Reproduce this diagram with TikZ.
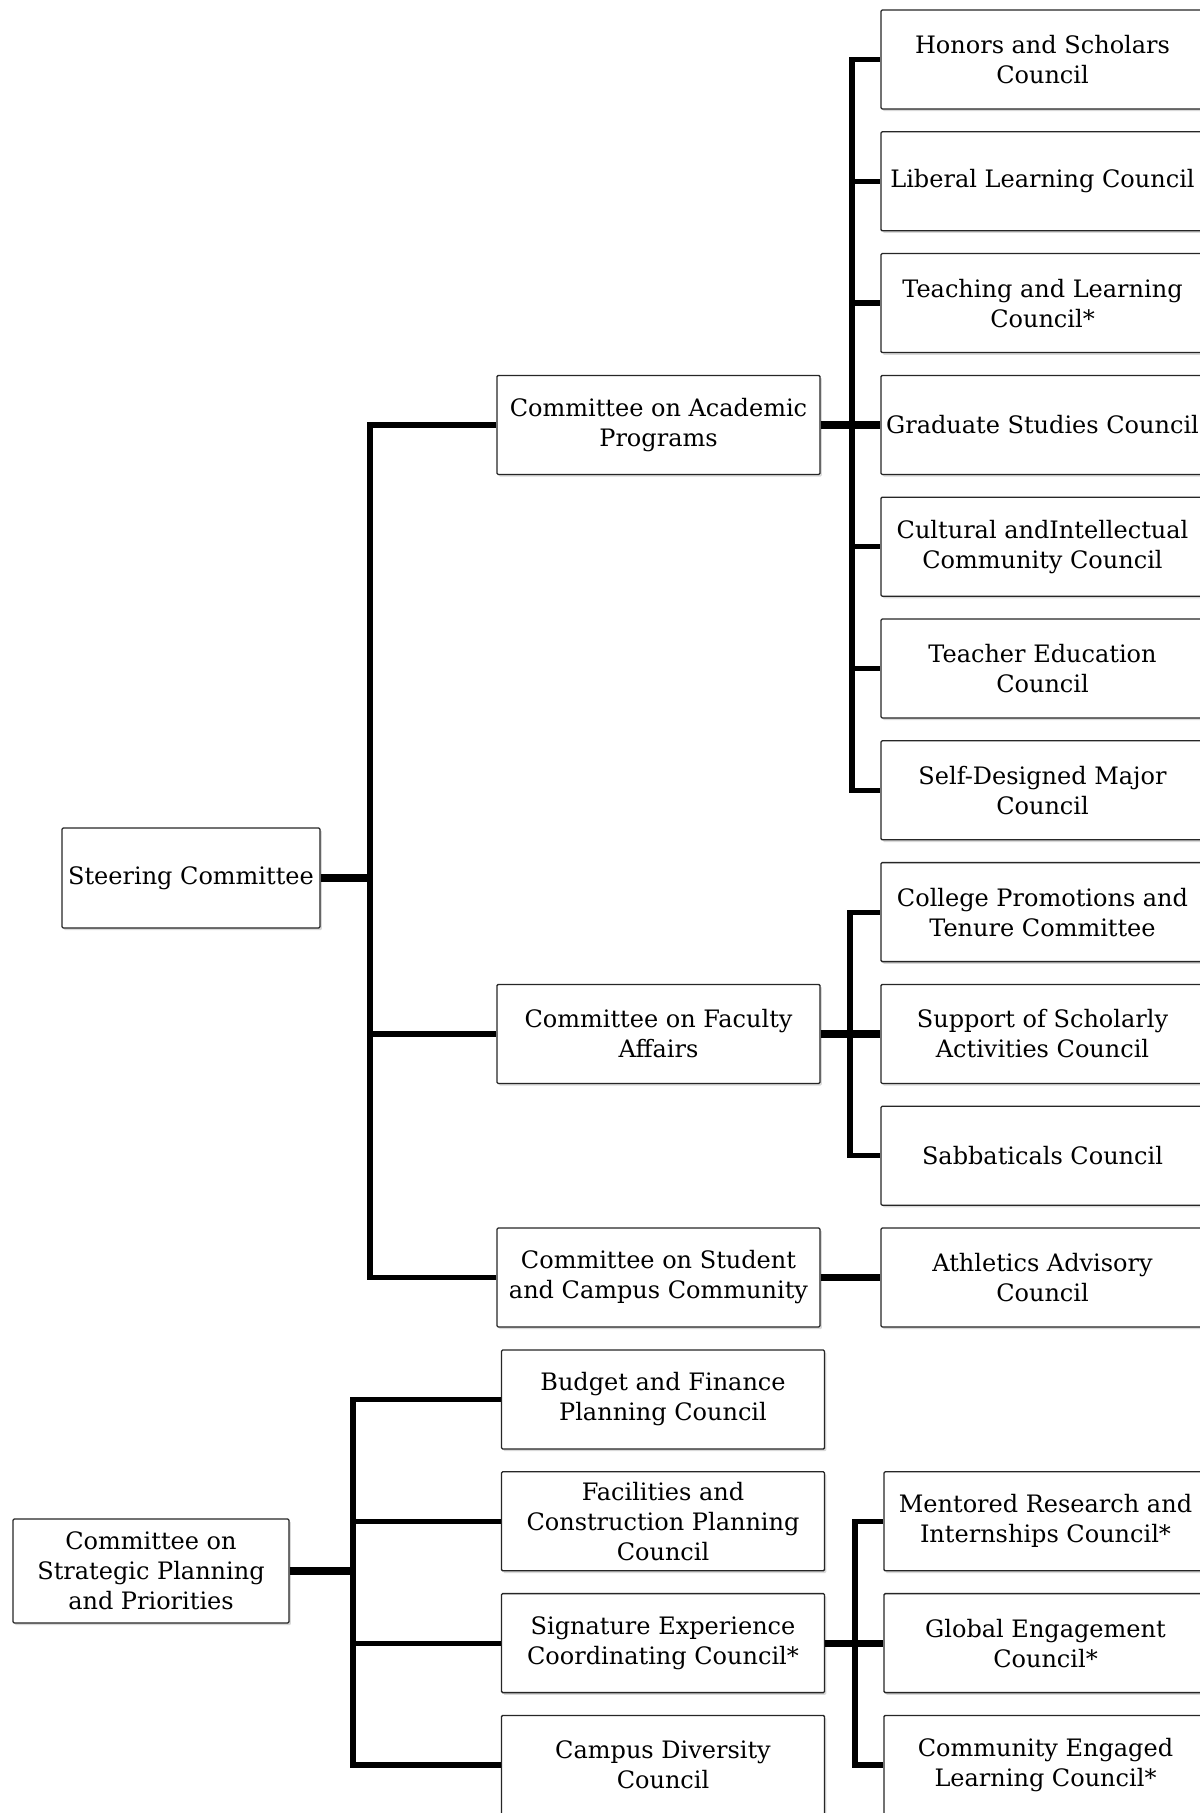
\documentclass[tikz,border=0pt]{standalone}
\usepackage{fontspec}
\setmainfont{DejaVu Serif}
\usetikzlibrary{shadows}

\tikzset{
  council/.style={draw=black!85, line width=0.65pt, fill=white, align=center,
    rounded corners=0.6pt, minimum width=161.5pt, minimum height=49.5pt, inner sep=1pt,
    font=\fontsize{12}{15}\selectfont,
    drop shadow={shadow xshift=0.9pt, shadow yshift=-1.1pt, opacity=0.3}},
  link/.style={line width=2.6pt},
  trunk/.style={line width=3.6pt}
}

\begin{document}
\begin{tikzpicture}[x=0.5pt,y=-0.5pt]
  \useasboundingbox (0,0) rectangle (1199,1813);

  % committees
  \node[council,minimum width=129pt,minimum height=50pt] (steer) at (191,878) {Steering Committee};
  \node[council] (cap)  at (658.5,424.9)  {Committee on Academic\\Programs};
  \node[council] (cfa)  at (658.5,1033.9) {Committee on Faculty\\Affairs};
  \node[council] (cscc) at (658.5,1277.5) {Committee on Student\\and Campus Community};

  % councils, right column
  \node[council] (honors)  at (1042.5,59.5)   {Honors and Scholars\\Council};
  \node[council] (liberal) at (1042.5,181.3)  {Liberal Learning Council};
  \node[council] (teach)   at (1042.5,303.1)  {Teaching and Learning\\Council*};
  \node[council] (grad)    at (1042.5,424.9)  {Graduate Studies Council};
  \node[council] (cult)    at (1042.5,546.7)  {Cultural andIntellectual\\Community Council};
  \node[council] (tedu)    at (1042.5,668.5)  {Teacher Education\\Council};
  \node[council] (selfdes) at (1042.5,790.3)  {Self-Designed Major\\Council};
  \node[council] (promo)   at (1042.5,912.1)  {College Promotions and\\Tenure Committee};
  \node[council] (schol)   at (1042.5,1033.9) {Support of Scholarly\\Activities Council};
  \node[council] (sabb)    at (1042.5,1155.7) {Sabbaticals Council};
  \node[council] (athl)    at (1042.5,1277.5) {Athletics Advisory\\Council};

  % strategic planning tree
  \node[council,minimum width=138pt,minimum height=52pt] (plan) at (151,1571) {Committee on\\Strategic Planning\\and Priorities};
  \node[council] (budget) at (663,1399.5)  {Budget and Finance\\Planning Council};
  \node[council] (facil)  at (663,1521.3)  {Facilities and\\Construction Planning\\Council};
  \node[council] (sig)    at (663,1643.1)  {Signature Experience\\Coordinating Council*};
  \node[council] (div)    at (663,1764.9)  {Campus Diversity\\Council};
  \node[council] (mentor) at (1045.5,1521.3) {Mentored Research and\\Internships Council*};
  \node[council] (global) at (1045.5,1643.1) {Global Engagement\\Council*};
  \node[council] (comm)   at (1045.5,1764.9) {Community Engaged\\Learning Council*};

  % bus points
  \coordinate (busS) at (370,878);
  \coordinate (busA) at (852,424.9);
  \coordinate (busF) at (850,1033.9);
  \coordinate (busP) at (353,1571);
  \coordinate (busE) at (855,1643.1);

  % steering committee
  \draw[trunk] (steer.east) -- (busS);
  \draw[link] (busS) |- (cap.west);
  \draw[link] (busS) |- (cfa.west);
  \draw[link] (busS) |- (cscc.west);

  % academic programs
  \draw[trunk] (cap.east) -- (busA);
  \draw[link] (busA) |- (honors.west);
  \draw[link] (busA) |- (liberal.west);
  \draw[link] (busA) |- (teach.west);
  \draw[trunk] (busA) -- (grad.west);
  \draw[link] (busA) |- (cult.west);
  \draw[link] (busA) |- (tedu.west);
  \draw[link] (busA) |- (selfdes.west);

  % faculty affairs
  \draw[trunk] (cfa.east) -- (busF);
  \draw[link] (busF) |- (promo.west);
  \draw[trunk] (busF) -- (schol.west);
  \draw[link] (busF) |- (sabb.west);

  % student and campus community
  \draw[trunk] (cscc.east) -- (athl.west);

  % strategic planning
  \draw[trunk] (plan.east) -- (busP);
  \draw[link] (busP) |- (budget.west);
  \draw[link] (busP) |- (facil.west);
  \draw[link] (busP) |- (sig.west);
  \draw[link] (busP) |- (div.west);

  % signature experience
  \draw[trunk] (sig.east) -- (busE);
  \draw[link] (busE) |- (mentor.west);
  \draw[trunk] (busE) -- (global.west);
  \draw[link] (busE) |- (comm.west);
\end{tikzpicture}
\end{document}
